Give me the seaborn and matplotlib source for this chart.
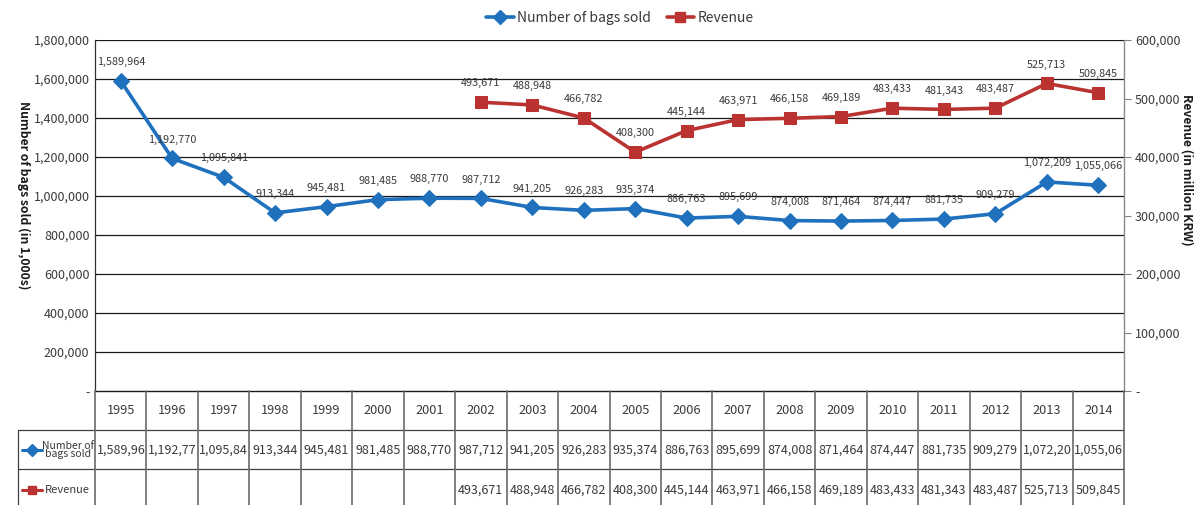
import matplotlib
matplotlib.use("Agg")
import matplotlib.pyplot as plt
from matplotlib.lines import Line2D
import numpy as np
import pandas as pd
import seaborn as sns

# ---- data -------------------------------------------------------------
years = [1995, 1996, 1997, 1998, 1999, 2000, 2001, 2002, 2003, 2004,
         2005, 2006, 2007, 2008, 2009, 2010, 2011, 2012, 2013, 2014]
bags_sold = [1589964, 1192770, 1095841, 913344, 945481, 981485, 988770,
             987712, 941205, 926283, 935374, 886763, 895699, 874008,
             871464, 874447, 881735, 909279, 1072209, 1055066]
revenue = [None, None, None, None, None, None, None,
           493671, 488948, 466782, 408300, 445144, 463971, 466158,
           469189, 483433, 481343, 483487, 525713, 509845]
left_ticks = [0, 200000, 400000, 600000, 800000, 1000000, 1200000,
              1400000, 1600000, 1800000]
right_ticks = [0, 100000, 200000, 300000, 400000, 500000, 600000]
series_names = ["Number of bags sold", "Revenue"]

# ---- style ------------------------------------------------------------
sns.set_theme(style="white")
plt.rcParams["font.family"] = ["Noto Sans CJK KR", "DejaVu Sans"]

BLUE = "#1f71bd"
RED = "#bb3330"
TXT = "#3a3a3a"
GRID = "#1a1a1a"

W, H = 1195, 505
fig = plt.figure(figsize=(W / 100, H / 100), dpi=100)


def fx(px):
    return px / W


def fy(py):
    return 1 - py / H


ax_l, ax_r, ax_t, ax_b = 95, 1124, 40, 391
ax = fig.add_axes([fx(ax_l), fy(ax_b), fx(ax_r - ax_l), fy(ax_t) - fy(ax_b)])
ax2 = ax.twinx()

df = pd.DataFrame({"pos": np.arange(len(years)), "bags": bags_sold,
                   "rev": pd.array(revenue, dtype="Float64")})
df_rev = df.dropna(subset=["rev"]).astype({"rev": float})

sns.lineplot(data=df, x="pos", y="bags", ax=ax, color=BLUE, lw=2.6,
             marker="D", markersize=8, markeredgecolor=BLUE, zorder=5)
sns.lineplot(data=df_rev, x="pos", y="rev", ax=ax2, color=RED, lw=2.6,
             marker="s", markersize=8, markeredgecolor=RED, zorder=5)

n = len(years)
for a in (ax, ax2):
    a.set_xlim(-0.5, n - 0.5)
    a.set_xlabel("")
    a.set_ylabel("")
    a.set_xticks([])
    a.grid(False)

ax.set_ylim(0, 1800000)
ax2.set_ylim(0, 600000)


def fmt(v):
    return "-" if v == 0 else f"{v:,.0f}"


ax.set_yticks(left_ticks)
ax.set_yticklabels([fmt(v) for v in left_ticks], fontsize=9, color=TXT)
ax2.set_yticks(right_ticks)
ax2.set_yticklabels([fmt(v) for v in right_ticks], fontsize=9, color=TXT)
ax.tick_params(axis="y", length=0, pad=4)
ax2.tick_params(axis="y", length=5, width=0.8, color="#808080", pad=3,
                direction="out", right=True)

for v in left_ticks[1:]:
    ax.axhline(v, color=GRID, lw=0.9, zorder=1)
for side in ("top", "bottom"):
    ax.spines[side].set_visible(False)
    ax2.spines[side].set_visible(False)
ax.spines["left"].set_color("#303030")
ax.spines["left"].set_linewidth(0.9)
ax.spines["right"].set_visible(False)
ax2.spines["left"].set_visible(False)
ax2.spines["right"].set_color("#8a8a8a")
ax2.spines["right"].set_linewidth(1.0)

# data labels above each point
for i, v in enumerate(bags_sold):
    ax.annotate(f"{v:,}", (i, v), xytext=(0, 10), textcoords="offset points",
                ha="center", va="bottom", fontsize=7.8, color=TXT, zorder=6)
for i, v in enumerate(revenue):
    if v is not None:
        ax2.annotate(f"{v:,}", (i, v), xytext=(0, 10),
                     textcoords="offset points", ha="center", va="bottom",
                     fontsize=7.8, color=TXT, zorder=6)

# y-axis titles
fig.text(fx(24), fy(195), "Number of bags sold (in 1,000s)", rotation=-90,
         ha="center", va="center", fontsize=8.8, fontweight="bold",
         color="#1a1a1a")
fig.text(fx(1187), fy(170), "Revenue (in million KRW)", rotation=-90,
         ha="center", va="center", fontsize=8.8, fontweight="bold",
         color="#1a1a1a")

# legend
handles = [Line2D([], [], color=BLUE, lw=2.6, marker="D", markersize=7),
           Line2D([], [], color=RED, lw=2.6, marker="s", markersize=7)]
fig.legend(handles, series_names, loc="center", ncol=2,
           bbox_to_anchor=(fx(620), fy(18)), frameon=False, fontsize=10,
           handlelength=2.0, columnspacing=1.1, handletextpad=0.25,
           labelcolor=TXT)

# ---- data table under the plot -----------------------------------------
row_y = [391, 430, 469, 508]
label_left = 18
col_w = (ax_r - ax_l) / n
col_x = [ax_l + i * col_w for i in range(n + 1)]
tbl_color = "#404040"

fig.add_artist(Line2D([fx(ax_l), fx(ax_r)], [fy(391), fy(391)],
                      color="#1a1a1a", lw=1.0))
for yy in row_y[1:3]:
    fig.add_artist(Line2D([fx(label_left), fx(ax_r)], [fy(yy), fy(yy)],
                          color=tbl_color, lw=0.9))
for xx in col_x:
    fig.add_artist(Line2D([fx(xx), fx(xx)], [fy(391), fy(508)],
                          color="#6a6a6a", lw=1.2))
fig.add_artist(Line2D([fx(label_left), fx(label_left)], [fy(430), fy(508)],
                      color=tbl_color, lw=0.9))

for i, yr in enumerate(years):
    fig.text(fx(col_x[i] + col_w / 2), fy(411), str(yr), ha="center",
             va="center", fontsize=9.2, color=TXT)

renderer = fig.canvas.get_renderer()


def cell_text(i, row_mid, val):
    """Write a value into a table cell; like a spreadsheet, a number that
    is too wide for its cell loses trailing characters and sits left."""
    s = f"{val:,}"
    x0, x1 = col_x[i], col_x[i + 1]
    room = col_w - 1.0
    t = fig.text(fx((x0 + x1) / 2), fy(row_mid), s, ha="center",
                 va="center", fontsize=9.0, color=TXT)
    if t.get_window_extent(renderer).width > room:
        while t.get_window_extent(renderer).width > room:
            s = s[:-1]
            t.set_text(s)
        t.set_x(fx(x0 + 1.5))
        t.set_ha("left")


for i, v in enumerate(bags_sold):
    cell_text(i, 450, v)
for i, v in enumerate(revenue):
    if v is not None:
        cell_text(i, 490, v)

# row labels with legend keys
fig.add_artist(Line2D([fx(22), fx(32), fx(42)], [fy(450)] * 3, color=BLUE,
                      lw=2.2, marker="D", markersize=6, markevery=[1],
                      markeredgecolor=BLUE))
fig.add_artist(Line2D([fx(22), fx(32), fx(42)], [fy(490)] * 3, color=RED,
                      lw=2.2, marker="s", markersize=6, markevery=[1],
                      markeredgecolor=RED))
fig.text(fx(68), fy(450), "Number of\nbags sold", ha="center", va="center",
         fontsize=7.5, color=TXT, linespacing=0.85)
fig.text(fx(45), fy(490), "Revenue", ha="left", va="center", fontsize=8,
         color=TXT)

fig.savefig("out.png", dpi=100)
